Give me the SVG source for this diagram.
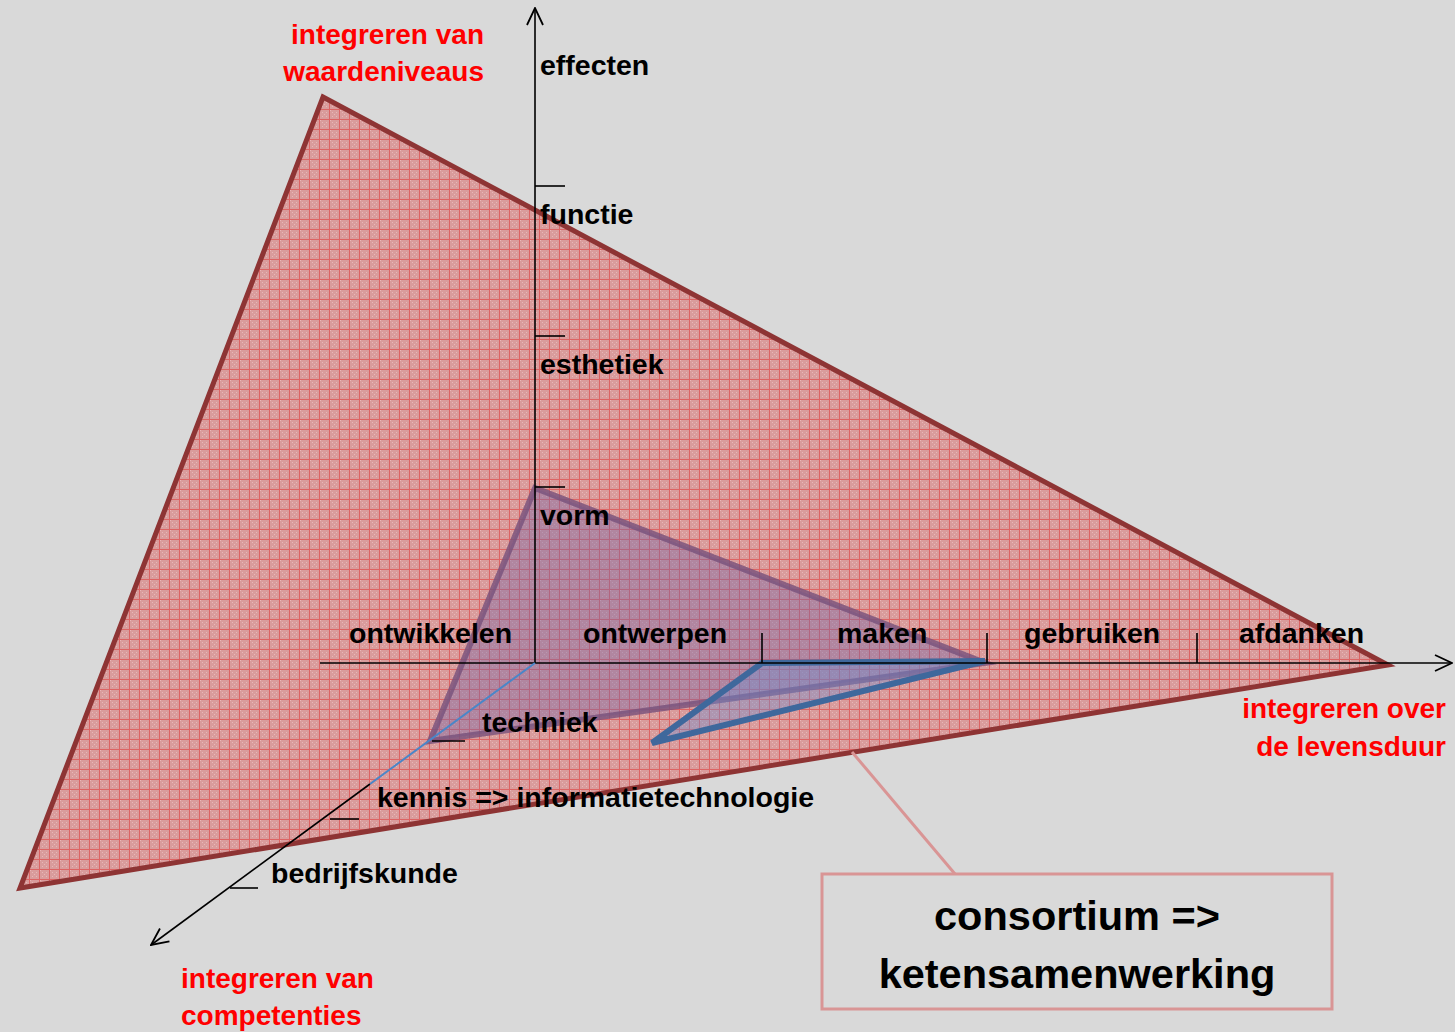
<svg xmlns="http://www.w3.org/2000/svg" width="1455" height="1032" viewBox="0 0 1455 1032">
<defs>
<pattern id="grid" width="10" height="10" patternUnits="userSpaceOnUse">
<rect width="10" height="10" fill="#d99c9c"/>
<rect x="0" y="0" width="1" height="1" fill="#e8b8b8"/>
<rect x="2" y="2" width="1" height="1" fill="#e8b8b8"/>
<rect x="4" y="4" width="1" height="1" fill="#e8b8b8"/>
<rect x="6" y="6" width="1" height="1" fill="#e8b8b8"/>
<rect x="6" y="2" width="1" height="1" fill="#e8b8b8"/>
<rect x="2" y="6" width="1" height="1" fill="#e8b8b8"/>
<rect x="9" y="0" width="1" height="10" fill="#dc6464"/>
<rect x="0" y="9" width="10" height="1" fill="#dc6464"/>
</pattern>
<marker id="arr" viewBox="0 0 20 20" refX="19" refY="10" markerWidth="20" markerHeight="20" markerUnits="userSpaceOnUse" orient="auto">
<path d="M2,2 L19,10 L2,18" fill="none" stroke="#000" stroke-width="1.8"/>
</marker>
<style>
.lbl{font-family:"Liberation Sans",Arial,sans-serif;font-weight:bold;font-size:28.5px;fill:#000}
.red{font-family:"Liberation Sans",Arial,sans-serif;font-weight:bold;font-size:28px;fill:#ff0000}
.axis{stroke:#000;stroke-width:1.6;fill:none}
.tick{stroke:#000;stroke-width:1.6}
.big{font-family:"Liberation Sans",Arial,sans-serif;font-weight:bold;font-size:41.5px;fill:#000}
</style>
</defs>
<rect width="1455" height="1032" fill="#d9d9d9"/>

<g id="plane-large">
<polygon points="323,97 1388,665 20,888" fill="url(#grid)" stroke="#8e3434" stroke-width="5" stroke-linejoin="miter"/>
</g>

<g id="plane-purple">
<polygon points="535,488 985,663 430,741" fill="#7566a8" fill-opacity="0.4" stroke="#77507a" stroke-opacity="0.8" stroke-width="6"/>
</g>

<g id="plane-blue">
<polygon points="762,663 985,661 652,743" fill="#6e8fd0" fill-opacity="0.4" stroke="#3f689c" stroke-width="6" stroke-linejoin="miter"/>
</g>

<g id="connectors">
<line class="axis" x1="535" y1="663" x2="535" y2="8" marker-end="url(#arr)"/>
<line class="axis" x1="320" y1="663" x2="1452" y2="663" marker-end="url(#arr)"/>
<line class="axis" x1="370" y1="784" x2="151" y2="945" marker-end="url(#arr)"/>
<line x1="535" y1="663" x2="370" y2="784" stroke="#4a86c8" stroke-width="2"/>
<line class="tick" x1="535" y1="186" x2="565" y2="186"/>
<line class="tick" x1="535" y1="336" x2="565" y2="336"/>
<line class="tick" x1="535" y1="487" x2="565" y2="487"/>
<line class="tick" x1="762" y1="633" x2="762" y2="663"/>
<line class="tick" x1="987" y1="633" x2="987" y2="663"/>
<line class="tick" x1="1197" y1="633" x2="1197" y2="663"/>
<line class="tick" x1="432" y1="741" x2="465" y2="741"/>
<line class="tick" x1="330" y1="819" x2="359" y2="819"/>
<line class="tick" x1="230" y1="888" x2="258" y2="888"/>
<line x1="852" y1="752" x2="955" y2="874" stroke="#d99595" stroke-width="3"/>
</g>

<g id="axis-labels">
<text class="lbl" x="540" y="75">effecten</text>
<text class="lbl" x="540" y="224">functie</text>
<text class="lbl" x="540" y="374">esthetiek</text>
<text class="lbl" x="540" y="525">vorm</text>
<text class="lbl" x="349" y="643">ontwikkelen</text>
<text class="lbl" x="583" y="643">ontwerpen</text>
<text class="lbl" x="837" y="643">maken</text>
<text class="lbl" x="1024" y="643">gebruiken</text>
<text class="lbl" x="1239" y="643">afdanken</text>
<text class="lbl" x="482" y="732">techniek</text>
<text class="lbl" x="377" y="807">kennis =&gt; informatietechnologie</text>
<text class="lbl" x="271" y="883">bedrijfskunde</text>
</g>

<g id="dimension-labels">
<text class="red" x="484" y="44" text-anchor="end">integreren van</text>
<text class="red" x="484" y="81" text-anchor="end">waardeniveaus</text>
<text class="red" x="1446" y="718" text-anchor="end">integreren over</text>
<text class="red" x="1446" y="756" text-anchor="end">de levensduur</text>
<text class="red" x="181" y="988">integreren van</text>
<text class="red" x="181" y="1025">competenties</text>
</g>

<g id="consortium">
<rect x="822" y="874" width="510" height="135" fill="#d9d9d9" stroke="#d99595" stroke-width="3"/>
<text class="big" x="1077" y="930" text-anchor="middle">consortium =&gt;</text>
<text class="big" x="1077" y="988" text-anchor="middle">ketensamenwerking</text>
</g>
</svg>
